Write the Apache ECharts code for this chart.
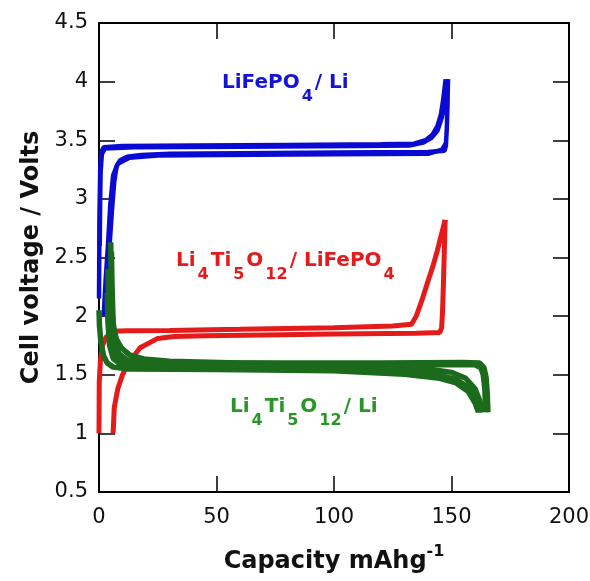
<!DOCTYPE html>
<html>
<head>
<meta charset="utf-8">
<script src="https://cdn.jsdelivr.net/npm/echarts@6/dist/echarts.min.js"></script>
<style>
  html, body { margin: 0; padding: 0; background: #fff; }
</style>
</head>
<body>
<div id="main" style="width: 590px;height: 581px"></div>
<script>
// axis ranges / ticks
var xTicks = [0, 50, 100, 150, 200]
var yTicks = [0.5, 1, 1.5, 2, 2.5, 3, 3.5, 4, 4.5]

// LiFePO4 / Li  (capacity mAh/g, volts)
var blueChargeA = [[0, 2.15], [0.2, 2.8], [0.5, 3.25], [1, 3.4], [2, 3.44], [10, 3.45], [40, 3.455], [80, 3.46], [120, 3.465], [134, 3.47], [139, 3.5], [142, 3.55], [144, 3.62], [145.5, 3.72], [146.5, 3.85], [147.5, 4.02]]
var blueChargeB = [[0.3, 2.6], [0.6, 3.2], [1.2, 3.38], [2.5, 3.43], [15, 3.44], [60, 3.445], [110, 3.45], [132, 3.455], [138, 3.48], [141.5, 3.52], [144, 3.58], [146, 3.7], [147.5, 3.85], [148.5, 4.02]]
var blueDischargeA = [[148.5, 4.02], [148.3, 3.8], [148, 3.6], [147.6, 3.45], [147, 3.41], [140, 3.4], [100, 3.395], [60, 3.39], [30, 3.385], [18, 3.375], [12, 3.36], [9, 3.33], [7.5, 3.28], [6.5, 3.15], [5.5, 2.9], [4.5, 2.6], [3.5, 2.3], [2.8, 2.0]]
var blueDischargeB = [[147.5, 3.47], [146, 3.42], [140, 3.385], [100, 3.38], [50, 3.375], [25, 3.37], [13, 3.35], [8, 3.3], [6, 3.2], [4.8, 2.95], [3.8, 2.6], [2.8, 2.3], [2, 2.0]]

// Li4Ti5O12 / LiFePO4
var redCharge = [[0, 1.0], [0.1, 1.43], [0.6, 1.62], [1.5, 1.75], [3, 1.82], [6, 1.87], [12, 1.875], [30, 1.878], [60, 1.887], [100, 1.9], [125, 1.915], [133, 1.93], [135, 2.0], [137.5, 2.14], [140, 2.3], [142, 2.42], [144, 2.56], [145.5, 2.68], [147.3, 2.82]]
var redDischarge = [[147.3, 2.82], [147, 2.6], [146.6, 2.3], [146.2, 2.05], [145.8, 1.9], [145, 1.86], [135, 1.855], [100, 1.848], [70, 1.84], [45, 1.832], [32, 1.826], [25, 1.81], [17.5, 1.73], [12.5, 1.6], [10, 1.5], [8, 1.38], [6.5, 1.22], [6, 1.0]]

// Li4Ti5O12 / Li
var greenDischargeA = [[5, 2.63], [5.2, 2.3], [5.5, 2.05], [6.2, 1.9], [7.5, 1.8], [9.5, 1.73], [13, 1.67], [19, 1.635], [30, 1.615], [60, 1.6], [100, 1.585], [125, 1.57], [140, 1.55], [150, 1.52], [156, 1.47], [160, 1.38], [162, 1.28], [163.5, 1.18]]
var greenDischargeB = [[3.8, 2.4], [4.2, 2.1], [4.8, 1.9], [6, 1.75], [8, 1.66], [11, 1.61], [17, 1.585], [40, 1.575], [90, 1.565], [125, 1.545], [142, 1.51], [152, 1.46], [158, 1.38], [161, 1.28], [162.5, 1.18]]
var greenDischargeC = [[0, 2.05], [0.2, 1.92], [0.8, 1.78], [2, 1.66], [3.5, 1.6], [6, 1.565], [12, 1.55], [50, 1.545], [100, 1.535], [130, 1.505], [145, 1.47], [152, 1.43], [157, 1.36], [160, 1.26], [161.5, 1.18]]
var greenChargeA = [[165.5, 1.18], [165.2, 1.35], [164.7, 1.48], [163.8, 1.56], [162, 1.6], [155, 1.605], [120, 1.6], [80, 1.6], [40, 1.6], [20, 1.605], [12, 1.625], [8.5, 1.68], [7, 1.77], [6, 1.95], [5.5, 2.3], [5.3, 2.55]]
var greenChargeB = [[164.5, 1.18], [164.2, 1.38], [163.5, 1.5], [162.5, 1.56], [160, 1.585], [140, 1.585], [100, 1.58], [60, 1.575], [30, 1.57], [15, 1.575], [9, 1.59], [6, 1.64], [4.5, 1.75], [3.8, 1.95], [3.5, 2.2]]

var BLUE = '#0a0ad2'
var RED = '#e51a1a'
var GREEN = '#1c6a1c'

function curve (data, color, width) {
  return {
    type: 'line',
    data: data,
    showSymbol: false,
    clip: false,
    lineStyle: { color: color, width: width },
    emphasis: { disabled: true }
  }
}

var axisLine = { onZero: false, lineStyle: { color: '#000', width: 2 } }
var axisTick = { inside: true, length: 16, lineStyle: { color: '#000', width: 1.5 } }
var tickFont = { fontFamily: 'DejaVu Sans', fontSize: 21, color: '#111' }
var titleFont = { fontFamily: 'DejaVu Sans', fontWeight: 'bold', fontSize: 24, color: '#111' }

function xAx (pos, main) {
  return {
    type: 'value',
    position: pos,
    min: xTicks[0],
    max: xTicks[xTicks.length - 1],
    interval: xTicks[1] - xTicks[0],
    axisLine: axisLine,
    axisTick: axisTick,
    splitLine: { show: false },
    axisLabel: Object.assign({ show: main, margin: 15 }, tickFont),
    name: main ? '{t|Capacity mAhg}{s|-1}' : '',
    nameLocation: 'middle',
    nameGap: 52,
    nameTextStyle: {
      rich: {
        t: titleFont,
        s: Object.assign({}, titleFont, { fontSize: 16, padding: [0, 0, 20, 0] })
      }
    }
  }
}

function yAx (pos, main) {
  return {
    type: 'value',
    position: pos,
    min: yTicks[0],
    max: yTicks[yTicks.length - 1],
    interval: yTicks[1] - yTicks[0],
    axisLine: axisLine,
    axisTick: axisTick,
    splitLine: { show: false },
    axisLabel: Object.assign({ show: main, margin: 11 }, tickFont),
    name: main ? 'Cell voltage / Volts' : '',
    nameLocation: 'middle',
    nameGap: 55,
    nameTextStyle: titleFont
  }
}

function label (left, top, text, color) {
  var main = { fontFamily: 'DejaVu Sans', fontWeight: 'bold', fontSize: 20, fill: color }
  return {
    type: 'text',
    left: left,
    top: top,
    style: {
      text: text,
      rich: {
        n: main,
        s: Object.assign({}, main, { fontSize: 16, padding: [27, 2, 0, 2] })
      }
    }
  }
}

var chart = echarts.init(document.getElementById('main'))
chart.setOption({
  animation: false,
  backgroundColor: '#fff',
  grid: { left: 99, right: 21, top: 23, bottom: 89, containLabel: false, outerBoundsMode: 'none' },
  xAxis: [xAx('bottom', true), xAx('top', false)],
  yAxis: [yAx('left', true), yAx('right', false)],
  series: [
    curve(blueChargeA, BLUE, 4.5),
    curve(blueChargeB, BLUE, 4.5),
    curve(blueDischargeA, BLUE, 4.5),
    curve(blueDischargeB, BLUE, 4.5),
    curve(redCharge, RED, 5),
    curve(redDischarge, RED, 5),
    curve(greenDischargeA, GREEN, 5.5),
    curve(greenDischargeB, GREEN, 5.5),
    curve(greenDischargeC, GREEN, 5.5),
    curve(greenChargeA, GREEN, 5.5),
    curve(greenChargeB, GREEN, 5.5)
  ],
  graphic: [
    label(222, 73, '{n|LiFePO}{s|4}{n|/ Li}', '#1414d4'),
    label(176, 251, '{n|Li}{s|4}{n|Ti}{s|5}{n|O}{s|12}{n|/ LiFePO}{s|4}', '#e51a1a'),
    label(230, 397, '{n|Li}{s|4}{n|Ti}{s|5}{n|O}{s|12}{n|/ Li}', '#2a962a')
  ]
})
</script>
</body>
</html>
